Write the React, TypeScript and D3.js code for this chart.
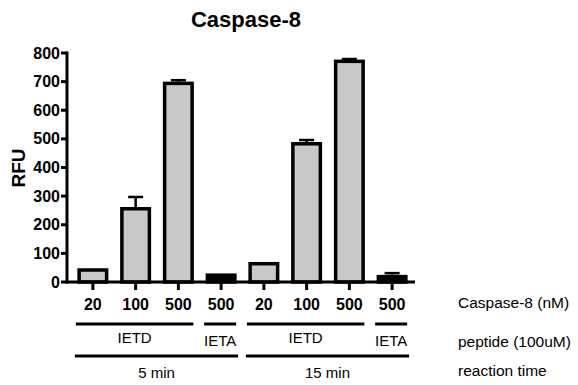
import React from "react";
import * as d3 from "d3";

const conditions = ["5-IETD-20", "5-IETD-100", "5-IETD-500", "5-IETA-500", "15-IETD-20", "15-IETD-100", "15-IETD-500", "15-IETA-500"];
const concLabels = ["20", "100", "500", "500", "20", "100", "500", "500"];
const peptides = ["IETD", "IETD", "IETD", "IETA", "IETD", "IETD", "IETD", "IETA"];
const rfuValues = [48, 262, 700, 30, 70, 489, 777, 25];
const rfuErrors = [0, 35, 5, 0, 0, 7, 2, 6];
const yTicks = [0, 100, 200, 300, 400, 500, 600, 700, 800];
const peptideGroups = [
  { label: "IETD", from: 0, to: 2 },
  { label: "IETA", from: 3, to: 3 },
  { label: "IETD", from: 4, to: 6 },
  { label: "IETA", from: 7, to: 7 },
];
const timeGroups = [
  { label: "5 min", from: 0, to: 3 },
  { label: "15 min", from: 4, to: 7 },
];
const rowLabels = ["Caspase-8 (nM)", "peptide (100uM)", "reaction time"];

export default function App() {
  const W = 578, H = 385;
  const x = d3.scaleBand<string>().domain(conditions).range([71.5, 413.5]).paddingInner(0.27).paddingOuter(0.135);
  const y = d3.scaleLinear().domain([0, 800]).range([282, 53]);
  const sw = 3.5;
  const bw = 31;
  const cx = (i: number) => (x(conditions[i]) as number) + x.bandwidth() / 2;
  const font = "Arial, 'Liberation Sans', sans-serif";
  return (
    <svg width={W} height={H} style={{ position: "absolute", left: 0, top: 0 }} fontFamily={font}>
      <text x={246} y={27} textAnchor="middle" fontWeight="bold" fontSize={22}>Caspase-8</text>
      <text transform="translate(25,168) rotate(-90)" textAnchor="middle" fontWeight="bold" fontSize={19}>RFU</text>
      {/* bars */}
      {rfuValues.map((v, i) => {
        const c = cx(i);
        const top = y(v) + sw / 2;
        return (
          <g key={i}>
            <rect x={c - bw / 2 + sw / 2} y={top} width={bw - sw} height={Math.max(0, y(0) - top)} fill={peptides[i] === "IETA" ? "#000" : "#c8c8c8"} stroke="#000" strokeWidth={sw} />
            {rfuErrors[i] > 0 && (
              <g stroke="#000" strokeWidth={2.5}>
                <line x1={c} x2={c} y1={y(v)} y2={y(v + rfuErrors[i])} />
                <line x1={c - 7.5} x2={c + 7.5} y1={y(v + rfuErrors[i])} y2={y(v + rfuErrors[i])} />
              </g>
            )}
          </g>
        );
      })}
      {/* y axis */}
      <line x1={67} x2={67} y1={y(800) - 1.5} y2={y(0) + 1.5} stroke="#000" strokeWidth={3} />
      {yTicks.map((t) => (
        <g key={t}>
          <line x1={61} x2={67} y1={y(t)} y2={y(t)} stroke="#000" strokeWidth={3} />
          <text x={60} y={y(t)} dy="0.35em" textAnchor="end" fontWeight="bold" fontSize={16}>{t}</text>
        </g>
      ))}
      {/* x axis */}
      <line x1={65.5} x2={415} y1={y(0)} y2={y(0)} stroke="#000" strokeWidth={3} />
      {concLabels.map((l, i) => (
        <g key={i}>
          <line x1={cx(i)} x2={cx(i)} y1={y(0)} y2={290} stroke="#000" strokeWidth={3} />
          <text x={cx(i)} y={310} textAnchor="middle" fontWeight="bold" fontSize={16}>{l}</text>
        </g>
      ))}
      {peptideGroups.map((g, i) => {
        const x1 = cx(g.from) - 17, x2 = cx(g.to) + 15;
        return (
          <g key={i}>
            <line x1={x1} x2={x2} y1={324} y2={324} stroke="#000" strokeWidth={3} />
            <text x={(x1 + x2) / 2} y={g.label === "IETA" ? 346 : 343} textAnchor="middle" fontSize={15}>{g.label}</text>
          </g>
        );
      })}
      {timeGroups.map((g, i) => {
        const x1 = cx(g.from) - 18, x2 = cx(g.to) + 17;
        return (
          <g key={i}>
            <line x1={x1} x2={x2} y1={356} y2={356} stroke="#000" strokeWidth={3} />
            <text x={(x1 + x2) / 2} y={378} textAnchor="middle" fontSize={15}>{g.label}</text>
          </g>
        );
      })}
      {rowLabels.map((l, i) => (
        <text key={i} x={458} y={[308, 347, 376][i]} fontSize={15.5}>{l}</text>
      ))}
    </svg>
  );
}
